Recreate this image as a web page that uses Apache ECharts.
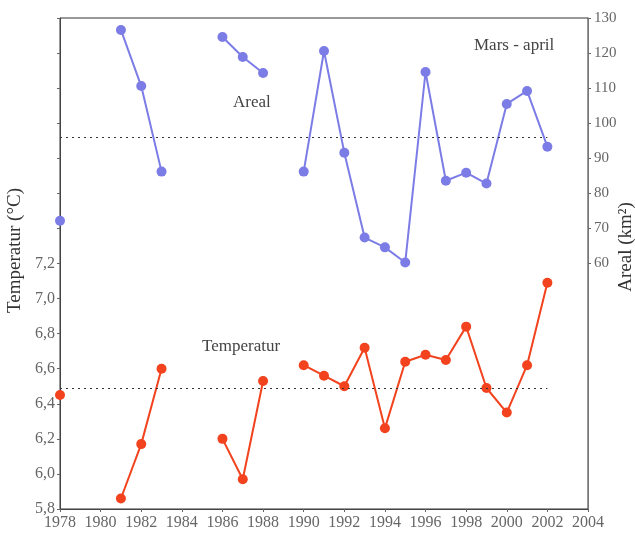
<!DOCTYPE html>
<html>
<head>
<meta charset="utf-8">
<script src="https://cdn.jsdelivr.net/npm/echarts@6/dist/echarts.min.js"></script>
<style>
  html, body { margin: 0; padding: 0; background: #fff; }
  #chart { width: 635px; height: 537px; }
</style>
</head>
<body>
<div id="chart"></div>
<script>
// Years on the x axis (null = no observation that year)
const years = [1978, 1979, 1980, 1981, 1982, 1983, 1984, 1985, 1986, 1987, 1988, 1989,
               1990, 1991, 1992, 1993, 1994, 1995, 1996, 1997, 1998, 1999, 2000, 2001, 2002];

// Ice area, March-April (km²)
const areal = [72.2, null, null, 126.6, 110.6, 86.2, null, null, 124.6, 118.9, 114.3, null,
               86.2, 120.6, 91.6, 67.4, 64.6, 60.3, 114.6, 83.6, 85.9, 82.8, 105.5, 109.2, 93.3];

// Mean temperature, March-April (°C)
const temperatur = [6.45, null, null, 5.86, 6.17, 6.60, null, null, 6.20, 5.97, 6.53, null,
                    6.62, 6.56, 6.50, 6.72, 6.26, 6.64, 6.68, 6.65, 6.84, 6.49, 6.35, 6.62, 7.09];

// Long-term means
const arealMean = 96.1;
const tempMean = 6.49;

// Tick labels that are printed on each y axis
const tempTicks = [5.8, 6.0, 6.2, 6.4, 6.6, 6.8, 7.0, 7.2];
const arealTicks = [60, 70, 80, 90, 100, 110, 120, 130];

const serif = '"Liberation Serif", "DejaVu Serif", serif';

function pairs(values) {
  return years.map((y, i) => [y, values[i]]);
}

function meanLine(value) {
  return {
    silent: true,
    symbol: 'none',
    label: { show: false },
    lineStyle: { type: [2, 4], color: '#333', width: 1 },
    data: [[{ coord: [years[0], value] }, { coord: [years[years.length - 1], value] }]]
  };
}

const chart = echarts.init(document.getElementById('chart'), null, { renderer: 'canvas' });

chart.setOption({
  backgroundColor: '#fff',
  animation: false,
  grid: {
    left: 60, right: 47, top: 18, bottom: 28,
    outerBoundsMode: 'none',
    containLabel: false,
    show: true, borderColor: '#333', borderWidth: 1
  },
  xAxis: {
    type: 'value',
    min: 1978, max: 2004, interval: 2,
    axisLine: { show: true, onZero: false, lineStyle: { color: '#444' } },
    axisTick: { show: true, length: 3, lineStyle: { color: '#666' } },
    splitLine: { show: false },
    axisLabel: { color: '#666', fontFamily: serif, fontSize: 16, margin: 6, formatter: v => String(v) }
  },
  yAxis: [
    {
      type: 'value',
      position: 'left',
      min: 5.8, max: 8.6, interval: 0.2,
      name: 'Temperatur (°C)',
      nameLocation: 'middle',
      nameRotate: 90,
      nameGap: 34,
      nameTextStyle: { color: '#333', fontFamily: serif, fontSize: 19, padding: [0, 0, 0, 26] },
      axisLine: { show: true, onZero: false, lineStyle: { color: '#444' } },
      axisTick: { show: true, length: 3, lineStyle: { color: '#666' } },
      splitLine: { show: false },
      axisLabel: {
        color: '#666', fontFamily: serif, fontSize: 16, margin: 5,
        customValues: tempTicks,
        formatter: v => v.toFixed(1).replace('.', ',')
      }
    },
    {
      type: 'value',
      position: 'right',
      min: -10, max: 130, interval: 10,
      axisLine: { show: true, onZero: false, lineStyle: { color: '#777' } },
      axisTick: { show: true, length: 3, customValues: arealTicks, lineStyle: { color: '#666' } },
      splitLine: { show: false },
      axisLabel: {
        color: '#666', fontFamily: serif, fontSize: 15, margin: 6,
        customValues: arealTicks,
        formatter: v => String(v)
      }
    }
  ],
  series: [
    {
      name: 'Areal',
      type: 'line',
      yAxisIndex: 1,
      data: pairs(areal),
      connectNulls: false,
      symbol: 'circle',
      symbolSize: 10,
      clip: false,
      itemStyle: { color: '#7c7ce6' },
      lineStyle: { color: '#7c7ce6', width: 2 },
      markLine: meanLine(arealMean)
    },
    {
      name: 'Temperatur',
      type: 'line',
      yAxisIndex: 0,
      data: pairs(temperatur),
      connectNulls: false,
      symbol: 'circle',
      symbolSize: 10,
      clip: false,
      itemStyle: { color: '#f2421e' },
      lineStyle: { color: '#f2421e', width: 2 },
      markLine: meanLine(tempMean)
    }
  ],
  graphic: [
    // right-hand axis title, read bottom to top
    {
      type: 'text', x: 626, y: 247, rotation: Math.PI / 2,
      style: { text: 'Areal (km²)', font: '19px ' + serif, fill: '#333', align: 'center', verticalAlign: 'middle' }
    },
    { type: 'text', left: 233, top: 94, style: { text: 'Areal', font: '17px ' + serif, fill: '#444' } },
    { type: 'text', left: 202, top: 338, style: { text: 'Temperatur', font: '17px ' + serif, fill: '#444' } },
    { type: 'text', left: 474, top: 37, style: { text: 'Mars - april', font: '17px ' + serif, fill: '#444' } }
  ]
});
</script>
</body>
</html>
